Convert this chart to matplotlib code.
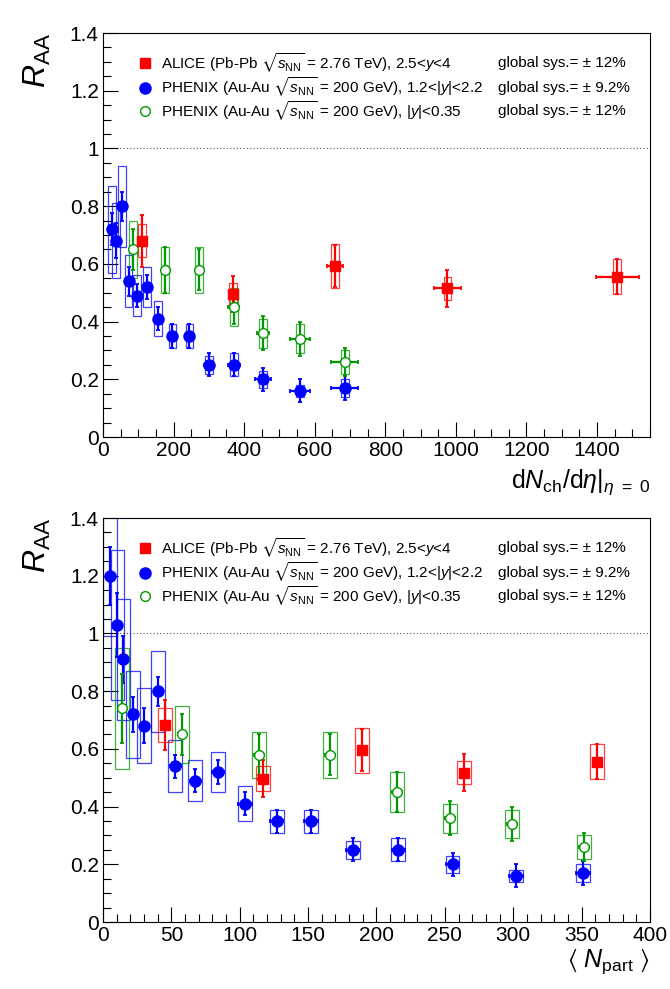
import numpy as np
import matplotlib
matplotlib.use("Agg")
import matplotlib.pyplot as plt
from matplotlib.patches import Rectangle
from matplotlib.ticker import MultipleLocator, FuncFormatter

plt.rcParams['font.family'] = ['Liberation Sans', 'DejaVu Sans']
plt.rcParams['mathtext.fontset'] = 'custom'
plt.rcParams['mathtext.rm'] = 'Liberation Sans'
plt.rcParams['mathtext.it'] = 'Liberation Sans:italic'
plt.rcParams['mathtext.bf'] = 'Liberation Sans:bold'
plt.rcParams['mathtext.fallback'] = 'stixsans'

# ---- top panel: R_AA vs dNch/deta ----
alice_dn = [110, 368, 657, 976, 1457]
alice_dn_err = [5, 8, 23, 38, 61]
alice_raa_top = [0.68, 0.495, 0.593, 0.515, 0.556]
alice_stat_top = [0.09, 0.063, 0.072, 0.063, 0.06]
alice_sys_top = [0.057, 0.04, 0.076, 0.04, 0.06]

phx_fwd_dn = [25.5, 37.6, 53.7, 72.5, 96, 124, 155.5, 197, 245, 300, 370.5, 454, 558, 685]
phx_fwd_dn_err = [2, 2, 3, 4, 5, 6, 8, 10, 13, 15, 17, 22, 29, 39]
phx_fwd_raa_top = [0.72, 0.68, 0.80, 0.54, 0.49, 0.52, 0.41, 0.35, 0.35, 0.25, 0.25, 0.20, 0.16, 0.17]
phx_fwd_stat_top = [0.055, 0.06, 0.05, 0.05, 0.04, 0.04, 0.04, 0.04, 0.04, 0.04, 0.04, 0.04, 0.04, 0.04]
phx_fwd_sys_top = [0.15, 0.13, 0.14, 0.09, 0.07, 0.07, 0.06, 0.04, 0.04, 0.03, 0.04, 0.03, 0.02, 0.03]

phx_mid_dn = [85, 176, 273, 370.5, 454, 558, 685]
phx_mid_dn_err = [4, 6, 8, 16, 17, 28, 38]
phx_mid_raa_top = [0.65, 0.58, 0.58, 0.45, 0.36, 0.34, 0.26]
phx_mid_stat_top = [0.07, 0.08, 0.07, 0.06, 0.06, 0.06, 0.05]
phx_mid_sys_top = [0.10, 0.08, 0.08, 0.065, 0.05, 0.05, 0.04]

# ---- bottom panel: R_AA vs <Npart> ----
alice_npart = [45.7, 116.7, 189.3, 264, 361]
alice_npart_err = [2, 3, 3, 3, 3]
alice_raa = [0.683, 0.497, 0.595, 0.518, 0.556]
alice_stat = [0.088, 0.063, 0.073, 0.065, 0.06]
alice_sys = [0.058, 0.043, 0.078, 0.04, 0.06]

phx_fwd_npart = [5.0, 10.6, 15, 21.7, 30.2, 40.5, 52.8, 67.5, 84, 103.7, 127, 152, 182.5, 216, 255.6, 302, 351]
phx_fwd_npart_err = [1, 1.5, 2, 2.5, 3, 3.5, 4, 4, 4.5, 5, 5, 5, 5, 5, 5, 5, 5]
phx_fwd_raa = [1.20, 1.03, 0.91, 0.72, 0.68, 0.80, 0.54, 0.49, 0.52, 0.41, 0.35, 0.35, 0.25, 0.25, 0.20, 0.16, 0.17]
phx_fwd_stat = [0.10, 0.11, 0.08, 0.06, 0.06, 0.05, 0.04, 0.04, 0.04, 0.04, 0.04, 0.04, 0.04, 0.04, 0.04, 0.04, 0.04]
phx_fwd_sys = [0.21, 0.26, 0.21, 0.15, 0.13, 0.14, 0.09, 0.07, 0.07, 0.06, 0.04, 0.04, 0.03, 0.04, 0.03, 0.02, 0.03]

phx_mid_npart = [13.9, 57.9, 114, 166, 215, 253.7, 299, 351.6]
phx_mid_npart_err = [2, 3, 3.5, 3.5, 3.5, 3.5, 3.5, 3.5]
phx_mid_raa = [0.74, 0.65, 0.58, 0.58, 0.45, 0.36, 0.34, 0.26]
phx_mid_stat = [0.12, 0.07, 0.07, 0.07, 0.07, 0.06, 0.06, 0.05]
phx_mid_sys = [0.21, 0.10, 0.08, 0.08, 0.07, 0.05, 0.05, 0.04]

legend_labels = [
    r"ALICE (Pb-Pb $\sqrt{s_{\rm NN}}$ = 2.76 TeV), 2.5<$y$<4",
    r"PHENIX (Au-Au $\sqrt{s_{\rm NN}}$ = 200 GeV), 1.2<|$y$|<2.2",
    r"PHENIX (Au-Au $\sqrt{s_{\rm NN}}$ = 200 GeV), |$y$|<0.35",
]
global_sys = ["global sys.= ± 12%", "global sys.= ± 9.2%", "global sys.= ± 12%"]

RED = (1.0, 0.0, 0.0)
BLUE = (0.0, 0.0, 1.0)
GREEN = (0.0, 0.6, 0.0)


def draw_series(ax, x, y, stat, sys, xerr, box_hw, color, marker, mfc, ms):
    """Systematic boxes, stat error bars and markers"""
    for xi, yi, si in zip(x, y, sys):
        ax.add_patch(Rectangle((xi - box_hw, yi - si), 2 * box_hw, 2 * si,
                               fill=False, ec=color, lw=0.9, alpha=0.75, zorder=2))
    ax.errorbar(x, y, yerr=stat, xerr=xerr, fmt='none', ecolor=color,
                elinewidth=1.6, capsize=1.3, capthick=1.3, zorder=3)
    ax.plot(x, y, ls='none', marker=marker, mfc=mfc, mec=color, ms=ms,
            mew=1.0, zorder=4)


def style_axes(ax, xmax, xmajor, xminor):
    ax.set_xlim(0, xmax)
    ax.set_ylim(0, 1.4)
    ax.xaxis.set_major_locator(MultipleLocator(xmajor))
    ax.xaxis.set_minor_locator(MultipleLocator(xminor))
    ax.yaxis.set_major_locator(MultipleLocator(0.2))
    ax.yaxis.set_minor_locator(MultipleLocator(0.05))
    ax.yaxis.set_major_formatter(FuncFormatter(lambda v, p: f"{v:g}"))
    ax.xaxis.set_major_formatter(FuncFormatter(lambda v, p: f"{v:g}"))
    ax.tick_params(which='both', direction='in', top=False, right=False,
                   width=0.8, labelsize=15, pad=3)
    ax.tick_params(which='major', length=11)
    ax.tick_params(which='minor', length=5.5)
    for sp in ax.spines.values():
        sp.set_linewidth(0.8)
    ax.axhline(1.0, color='0.35', ls=(0, (1, 2)), lw=0.8, zorder=1)

    # legend drawn by hand, ROOT-like
    rows_y = [0.9265, 0.865, 0.807]
    markers = [('s', RED, RED, 7), ('o', BLUE, BLUE, 8), ('o', GREEN, 'white', 7)]
    for ry, lab, gs, (mk, c, fc, ms) in zip(rows_y, legend_labels, global_sys, markers):
        ax.plot([0.077], [ry], transform=ax.transAxes, marker=mk, mec=c, mfc=fc,
                ms=ms, mew=1.0, ls='none', clip_on=False)
        ax.text(0.106, ry, lab, transform=ax.transAxes, fontsize=11,
                va='center', ha='left')
        ax.text(0.722, ry, gs, transform=ax.transAxes, fontsize=11,
                va='center', ha='left')

    ax.text(-0.12, 1.0, r"$R_{\rm AA}$", transform=ax.transAxes, rotation=90,
            fontsize=23, ha='center', va='top')


fig = plt.figure(figsize=(6.7, 9.89), dpi=100)
ax1 = fig.add_axes([0.1537, 0.5581, 0.8164, 0.4085])
ax2 = fig.add_axes([0.1537, 0.0677, 0.8164, 0.4085])

style_axes(ax1, 1550, 200, 50)
draw_series(ax1, phx_fwd_dn, phx_fwd_raa_top, phx_fwd_stat_top, phx_fwd_sys_top,
            phx_fwd_dn_err, 11, BLUE, 'o', BLUE, 8)
draw_series(ax1, phx_mid_dn, phx_mid_raa_top, phx_mid_stat_top, phx_mid_sys_top,
            phx_mid_dn_err, 11, GREEN, 'o', 'white', 7)
draw_series(ax1, alice_dn, alice_raa_top, alice_stat_top, alice_sys_top,
            alice_dn_err, 11, RED, 's', RED, 7)
ax1.text(1.0, -0.075, r"d$N_{\rm ch}$/d$\eta$|$_{\eta\ =\ 0}$", transform=ax1.transAxes,
         fontsize=18, ha='right', va='top')

style_axes(ax2, 400, 50, 10)
draw_series(ax2, phx_fwd_npart, phx_fwd_raa, phx_fwd_stat, phx_fwd_sys,
            phx_fwd_npart_err, 5.1, BLUE, 'o', BLUE, 8)
draw_series(ax2, phx_mid_npart, phx_mid_raa, phx_mid_stat, phx_mid_sys,
            phx_mid_npart_err, 5.1, GREEN, 'o', 'white', 7)
draw_series(ax2, alice_npart, alice_raa, alice_stat, alice_sys,
            alice_npart_err, 5.1, RED, 's', RED, 7)
ax2.text(1.0, -0.062, r"$\langle\ N_{\rm part}\ \rangle$", transform=ax2.transAxes,
         fontsize=18, ha='right', va='top')

fig.savefig("out.png", dpi=100)
